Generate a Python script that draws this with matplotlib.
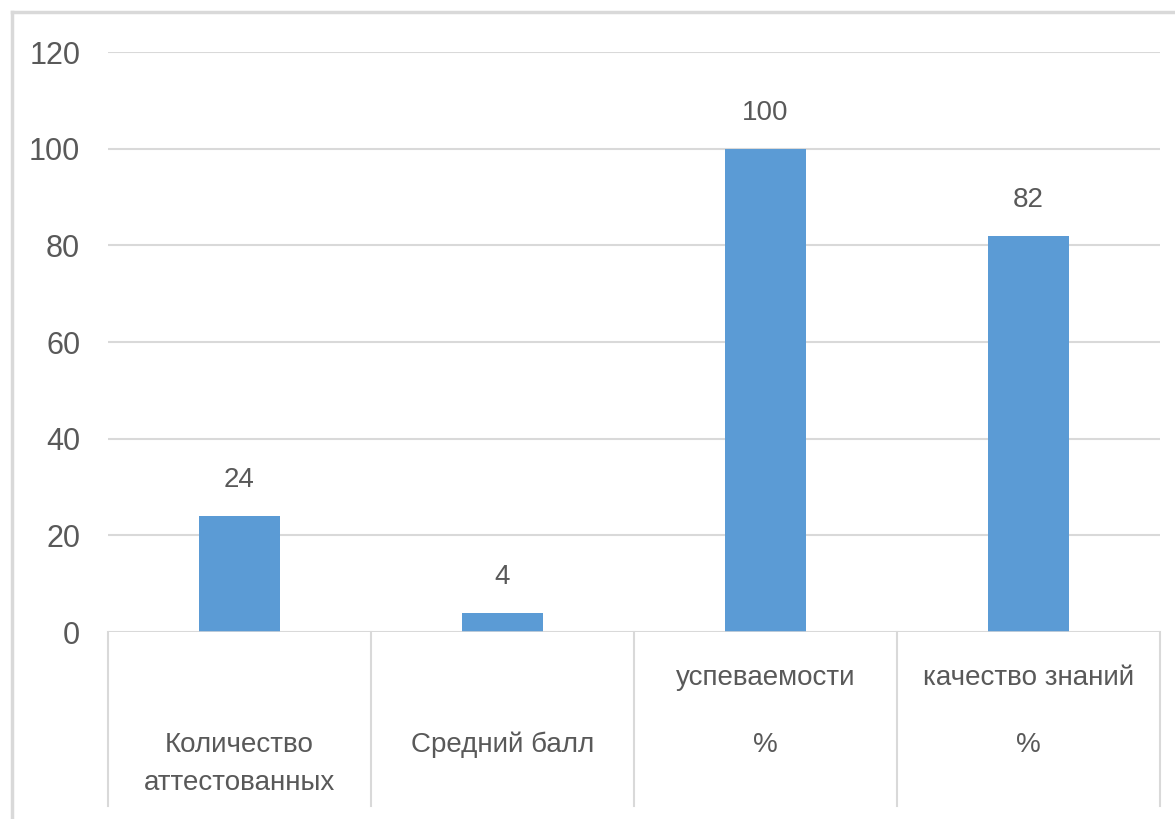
import matplotlib
matplotlib.use("Agg")
import matplotlib.pyplot as plt
from matplotlib.lines import Line2D

plt.rcParams['font.family'] = ['Liberation Sans Narrow', 'Liberation Sans', 'DejaVu Sans']

categories = ["Количество\nаттестованных", "Средний балл", "успеваемости\n\n%", "качество знаний\n\n%"]
values = [24, 4, 100, 82]
y_ticks = [0, 20, 40, 60, 80, 100, 120]

text_color = "#595959"
grid_color = "#d9d9d9"
bar_color = "#5b9bd5"

fig = plt.figure(figsize=(11.75, 8.19), dpi=100)
ax = fig.add_axes([108 / 1175, (819 - 632) / 819, (1160 - 108) / 1175, 580 / 819])

x = list(range(len(values)))
ax.bar(x, values, width=0.31, color=bar_color, zorder=3)

for xi, v in zip(x, values):
    ax.annotate(str(v), (xi, v), xytext=(0, 26), textcoords="offset points",
                ha="center", va="center", fontsize=20, color=text_color)

ax.set_xlim(-0.5, len(values) - 0.5)
ax.set_ylim(0, 120)
ax.set_yticks(y_ticks)
ax.set_yticklabels([str(t) for t in y_ticks], fontsize=22, color=text_color)
ax.tick_params(axis="y", length=0, pad=20)
ax.set_xticks([])
ax.yaxis.grid(True, color=grid_color, linewidth=1.5, zorder=0)
for s in ax.spines.values():
    s.set_visible(False)
ax.axhline(0, color=grid_color, linewidth=1.8, zorder=4)

# category separators below the axis
trans = ax.get_xaxis_transform()
for b in [i - 0.5 for i in range(len(values) + 1)]:
    ax.plot([b, b], [0, -0.30], transform=trans, color=grid_color,
            linewidth=1.5, clip_on=False)

# category labels, lines placed like the original
label_y = -0.195
for xi, lab in zip(x, categories):
    lines = lab.split("\n")
    if len(lines) == 2:
        ys = [label_y, label_y - 0.066]
    elif len(lines) == 3:
        ys = [label_y + 0.116, None, label_y]
    else:
        ys = [label_y]
    for ln, yy in zip(lines, ys):
        if yy is None or not ln:
            continue
        ax.text(xi, yy, ln, transform=trans, ha="center", va="center",
                fontsize=20, color=text_color)

# outer chart border
fig.add_artist(Line2D([12 / 1175, 12 / 1175], [0, 1 - 12 / 819], color=grid_color, linewidth=2.5))
fig.add_artist(Line2D([12 / 1175, 1], [1 - 12 / 819, 1 - 12 / 819], color=grid_color, linewidth=2.5))

fig.savefig("out.png", dpi=100)
